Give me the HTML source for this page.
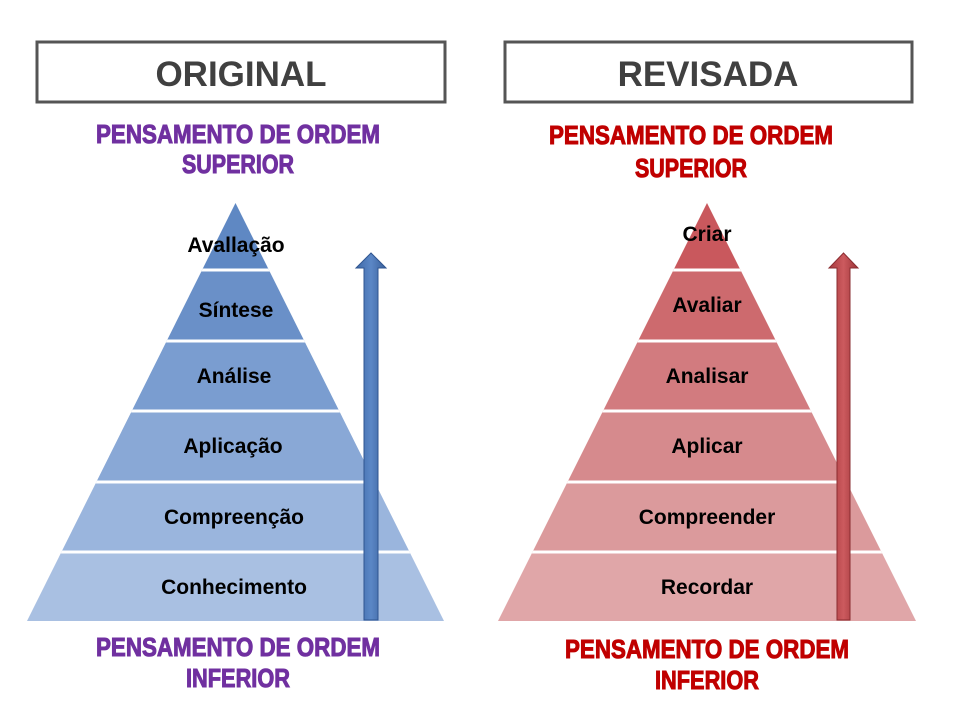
<!DOCTYPE html>
<html><head><meta charset="utf-8"><style>
html,body{margin:0;padding:0;background:#fff;}
svg{display:block;}
</style></head><body>
<svg width="960" height="720" viewBox="0 0 960 720" xmlns="http://www.w3.org/2000/svg" font-family="Liberation Sans, sans-serif">
<defs>
<clipPath id="tl"><polygon points="235.5,203 27,621 444,621"/></clipPath>
<clipPath id="tr"><polygon points="707,203 498,621 916,621"/></clipPath>
<linearGradient id="ab" x1="0" x2="1"><stop offset="0" stop-color="#3f6aa8"/><stop offset="0.5" stop-color="#5b87c6"/><stop offset="1" stop-color="#3a609a"/></linearGradient>
<linearGradient id="ar" x1="0" x2="1"><stop offset="0" stop-color="#a83a3e"/><stop offset="0.5" stop-color="#cc5a5e"/><stop offset="1" stop-color="#9c3438"/></linearGradient>
</defs>
<rect x="37" y="42" width="408" height="60" fill="#fff" stroke="#555" stroke-width="3"/>
<text x="241" y="86" text-anchor="middle" font-size="35" font-weight="bold" fill="#404040">ORIGINAL</text>
<rect x="505" y="42" width="407" height="60" fill="#fff" stroke="#555" stroke-width="3"/>
<text x="708" y="86" text-anchor="middle" font-size="35" font-weight="bold" fill="#404040">REVISADA</text>

<g font-size="26" font-weight="bold" text-anchor="middle" stroke-width="1">
<text x="238" y="143" fill="#7030a0" stroke="#7030a0" textLength="284" lengthAdjust="spacingAndGlyphs">PENSAMENTO DE ORDEM</text>
<text x="238" y="173" fill="#7030a0" stroke="#7030a0" textLength="112" lengthAdjust="spacingAndGlyphs">SUPERIOR</text>
<text x="691" y="144" fill="#c00000" stroke="#c00000" textLength="284" lengthAdjust="spacingAndGlyphs">PENSAMENTO DE ORDEM</text>
<text x="691" y="177" fill="#c00000" stroke="#c00000" textLength="112" lengthAdjust="spacingAndGlyphs">SUPERIOR</text>
<text x="238" y="656" fill="#7030a0" stroke="#7030a0" textLength="284" lengthAdjust="spacingAndGlyphs">PENSAMENTO DE ORDEM</text>
<text x="238" y="687" fill="#7030a0" stroke="#7030a0" textLength="104" lengthAdjust="spacingAndGlyphs">INFERIOR</text>
<text x="707" y="658" fill="#c00000" stroke="#c00000" textLength="284" lengthAdjust="spacingAndGlyphs">PENSAMENTO DE ORDEM</text>
<text x="707" y="689" fill="#c00000" stroke="#c00000" textLength="104" lengthAdjust="spacingAndGlyphs">INFERIOR</text>
</g>

<g clip-path="url(#tl)">
<rect x="0" y="200" width="480" height="70" fill="#5f88c3"/>
<rect x="0" y="270" width="480" height="71" fill="#6a90c8"/>
<rect x="0" y="341" width="480" height="70" fill="#7a9dd0"/>
<rect x="0" y="411" width="480" height="71" fill="#89a8d6"/>
<rect x="0" y="482" width="480" height="70" fill="#9ab5dd"/>
<rect x="0" y="552" width="480" height="70" fill="#a9c0e2"/>
<g fill="#fff"><rect x="0" y="268.5" width="480" height="3"/><rect x="0" y="339.5" width="480" height="3"/><rect x="0" y="409.5" width="480" height="3"/><rect x="0" y="480.5" width="480" height="3"/><rect x="0" y="550.5" width="480" height="3"/></g>
</g>
<g clip-path="url(#tr)">
<rect x="480" y="200" width="480" height="70" fill="#c9585d"/>
<rect x="480" y="270" width="480" height="71" fill="#cd6a6e"/>
<rect x="480" y="341" width="480" height="70" fill="#d27b7f"/>
<rect x="480" y="411" width="480" height="71" fill="#d68a8d"/>
<rect x="480" y="482" width="480" height="70" fill="#db9a9c"/>
<rect x="480" y="552" width="480" height="70" fill="#e0a6a8"/>
<g fill="#fff"><rect x="480" y="268.5" width="480" height="3"/><rect x="480" y="339.5" width="480" height="3"/><rect x="480" y="409.5" width="480" height="3"/><rect x="480" y="480.5" width="480" height="3"/><rect x="480" y="550.5" width="480" height="3"/></g>
</g>

<polygon points="364,620 364,268 356,268 371,253 386,268 378,268 378,620" fill="url(#ab)" stroke="#2f5590" stroke-width="1"/>
<polygon points="837,620 837,268 829,268 843.5,253 858,268 850,268 850,620" fill="url(#ar)" stroke="#8a2c30" stroke-width="1"/>

<g font-size="21" font-weight="bold" text-anchor="middle" fill="#000">
<text x="236" y="252">Avallação</text>
<text x="236" y="317">Síntese</text>
<text x="234" y="383">Análise</text>
<text x="233" y="453">Aplicação</text>
<text x="234" y="524">Compreenção</text>
<text x="234" y="594">Conhecimento</text>
<text x="707" y="241">Criar</text>
<text x="707" y="312">Avaliar</text>
<text x="707" y="383">Analisar</text>
<text x="707" y="453">Aplicar</text>
<text x="707" y="524">Compreender</text>
<text x="707" y="594">Recordar</text>
</g>
</svg>
</body></html>
